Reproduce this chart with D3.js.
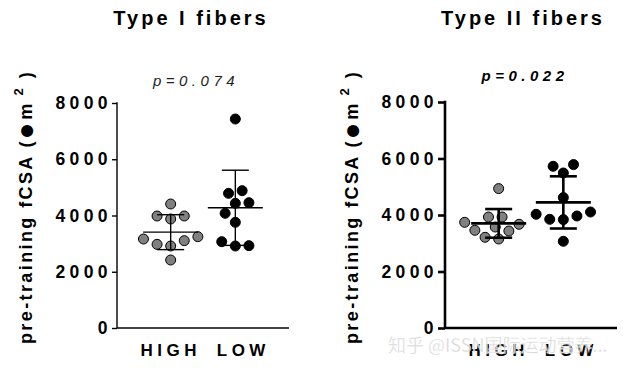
<!DOCTYPE html>
<html lang="en">
    <head>
        <meta charset="utf-8">
        <title>Pre-training fCSA</title>
        <script src="https://d3js.org/d3.v7.min.js"></script>
        <style>
          body { margin: 0; background: #fff; }
          text { font-family: "Liberation Sans", Arial, sans-serif; }
        </style>
    </head>
    <body>
        <script>
          // values (fCSA, um^2)
          const groups = ['HIGH', 'LOW'];
          const yTicks = [0, 2000, 4000, 6000, 8000];
          const panelTitles = ['Type I fibers', 'Type II fibers'];
          const pLabels = ['p=0.074', 'p=0.022'];
          const type1High = [4409, 3876, 3982, 3982, 2916, 2975, 3105, 3164, 3247, 2418];
          const type1Low = [7431, 2916, 3069, 2928, 3757, 4077, 4433, 4456, 4788, 4883];
          const type2High = [4934, 3150, 3211, 3434, 3458, 3575, 3671, 3741, 3929, 3929];
          const type2Low = [3069, 3837, 3848, 3965, 4025, 4106, 4616, 5487, 5724, 5784];

          const w = 630;
          const h = 372;
          const svg = d3.select('body')
            .append('svg')
            .attr('width', w)
            .attr('height', h)

          // simple dot swarm: each point takes the nearest free slot
          function swarm(values, cx, yScale, gap) {
            const placed = [];
            const step = 3.4;
            values.forEach(v => {
              const y = yScale(v);
              for (let k = 0; k < 40; k++) {
                const off = k === 0 ? 0 : (k % 2 ? -1 : 1) * Math.ceil(k / 2) * step;
                const ok = placed.every(p => Math.hypot(p.x - (cx + off), p.y - y) >= gap);
                if (ok) {
                  placed.push({ v: v, x: cx + off, y: y });
                  break;
                }
              }
            });
            return placed;
          }

          function drawPanel(opt) {
            const g = svg.append('g');
            const yScale = d3.scaleLinear()
              .domain([0, 8000])
              .range([328, opt.top])
            const xScale = d3.scalePoint()
              .domain(groups)
              .range([opt.left, opt.left + 172])
              .padding(0.83)

            // title and p value
            g.append('text')
              .attr('x', opt.left + opt.tdx)
              .attr('y', 25)
              .attr('text-anchor', 'middle')
              .style('font-size', '20px')
              .style('font-weight', 'bold')
              .style('letter-spacing', '3px')
              .text(opt.title)
            g.append('text')
              .attr('x', opt.left + opt.pdx)
              .attr('y', opt.py)
              .attr('text-anchor', 'middle')
              .style('font-size', '15px')
              .style('font-style', 'italic')
              .style('font-weight', opt.pBold ? 'bold' : 'normal')
              .style('letter-spacing', '4.5px')
              .attr('fill', opt.pBold ? '#000' : '#222')
              .text(opt.p)

            // y axis label
            const lab = g.append('text')
              .attr('transform', 'translate(' + opt.labX + ',207) rotate(-90)')
              .attr('text-anchor', 'middle')
              .style('font-size', '18px')
              .style('font-weight', 'bold')
              .style('letter-spacing', '2.4px')
            lab.append('tspan').text('pre-training fCSA (')
            lab.append('tspan').style('font-size', '28px').attr('dy', 3).text('●')
            lab.append('tspan').attr('dy', -3).text('m')
            lab.append('tspan').style('font-size', '13px').attr('dy', -9).text(' 2')
            lab.append('tspan').attr('dy', 9).text(' )')

            // axes
            const yAxis = d3.axisLeft(yScale)
              .tickValues(yTicks)
              .tickSize(opt.tick)
              .tickPadding(0)
              .tickFormat(d3.format('d'))
            const ya = g.append('g')
              .attr('transform', 'translate(' + opt.left + ',0)')
              .call(yAxis)
            ya.select('.domain').attr('d', 'M0,' + (opt.top - opt.sw / 2) + 'V328').attr('stroke-width', opt.sw)
            ya.selectAll('.tick line').attr('stroke-width', opt.sw)
            ya.selectAll('.tick text')
              .style('font-size', '17.5px')
              .style('font-weight', 'bold')
              .style('letter-spacing', '4.4px')
              .style('font-family', '"Liberation Sans", Arial, sans-serif')
              .attr('fill', '#000')
            g.append('line')
              .attr('x1', opt.left)
              .attr('x2', opt.left + 172)
              .attr('y1', 328)
              .attr('y2', 328)
              .attr('stroke', '#000')
              .attr('stroke-width', opt.sw)
            g.selectAll('.xlab')
              .data(groups)
              .enter()
              .append('text')
              .attr('class', 'xlab')
              .attr('x', (d, i) => xScale(d) + (i ? 8 : 0))
              .attr('y', 356)
              .attr('text-anchor', 'middle')
              .style('font-size', '17px')
              .style('font-weight', 'bold')
              .style('letter-spacing', '4.5px')
              .text(d => d)

            // dots and mean +/- SD
            opt.data.forEach((vals, i) => {
              const cx = xScale(groups[i]);
              const m = d3.mean(vals);
              const sd = d3.deviation(vals);
              const pts = swarm(vals, cx, yScale, 11.8);
              g.selectAll('.dot' + i)
                .data(pts)
                .enter()
                .append('circle')
                .attr('cx', d => d.x)
                .attr('cy', d => d.y)
                .attr('r', 5)
                .attr('fill', i === 0 ? '#808080' : '#000')
                .attr('stroke', '#000')
                .attr('stroke-width', 1)
              const bar = g.append('g')
                .attr('stroke', '#000')
                .attr('stroke-width', opt.sw)
              bar.append('line')
                .attr('x1', cx).attr('x2', cx)
                .attr('y1', yScale(m + sd)).attr('y2', yScale(m - sd))
              bar.append('line')
                .attr('x1', cx - 27.5).attr('x2', cx + 27.5)
                .attr('y1', yScale(m)).attr('y2', yScale(m))
              ;[m + sd, m - sd].forEach(v => {
                bar.append('line')
                  .attr('x1', cx - 13.5).attr('x2', cx + 13.5)
                  .attr('y1', yScale(v)).attr('y2', yScale(v))
              })
            })
          }

          drawPanel({ left: 117, top: 103, title: panelTitles[0], p: pLabels[0], pBold: false,
            tdx: 74, pdx: 79, py: 86, labX: 32, sw: 1.4, tick: 5,
            data: [type1High, type1Low] })
          drawPanel({ left: 445, top: 102, title: panelTitles[1], p: pLabels[1], pBold: true,
            tdx: 78, pdx: 80, py: 81, labX: 358, sw: 2.6, tick: 7,
            data: [type2High, type2Low] })

          // watermark from the source image
          svg.append('text')
            .attr('x', 388)
            .attr('y', 352)
            .style('font-family', '"Noto Sans CJK SC", sans-serif')
            .style('font-size', '18px')
            .attr('fill', '#c8c8c8')
            .attr('fill-opacity', 0.85)
            .attr('stroke', '#fff')
            .attr('stroke-width', 0.8)
            .attr('stroke-opacity', 0.6)
            .text('知乎 @ISSN国际运动营养...')
        </script>
    </body>
</html>
